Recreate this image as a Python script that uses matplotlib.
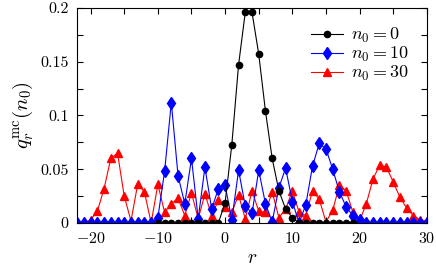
import numpy as np
import matplotlib
matplotlib.use("Agg")
import matplotlib.pyplot as plt
from matplotlib.ticker import MultipleLocator

plt.rcParams.update({
    "font.family": "serif",
    "font.serif": ["cmr10"],
    "mathtext.fontset": "cm",
    "axes.formatter.use_mathtext": True,
    "font.size": 11,
})

r_all = np.arange(-22, 31)
r_black = np.arange(-10, 20)

q_n0_0 = [0, 0, 0, 0, 0, 0, 0, 0, 0, 0,
          0.019, 0.073, 0.147, 0.196, 0.196, 0.157, 0.104, 0.060, 0.030, 0.013,
          0.005, 0, 0, 0, 0, 0, 0, 0, 0, 0]

q_n0_10 = [0, 0, 0, 0, 0, 0, 0, 0, 0, 0, 0, 0,
           0.005, 0.048, 0.112, 0.044, 0.018, 0.060, 0.004, 0.052, 0.013, 0.032,
           0.035, 0.003, 0.049, 0.016, 0.009, 0.049, 0.018, 0.001, 0.033, 0.051,
           0.020, 0.0, 0.017, 0.053, 0.074, 0.069, 0.050, 0.029, 0.015, 0.007,
           0.003, 0, 0, 0, 0, 0, 0, 0, 0, 0, 0]

q_n0_30 = [0, 0, 0.003, 0.011, 0.032, 0.060, 0.065, 0.025, 0.002, 0.036,
           0.029, 0.0, 0.036, 0.010, 0.018, 0.023, 0.007, 0.028, 0.004, 0.027,
           0.007, 0.021, 0.015, 0.010, 0.026, 0.004, 0.030, 0.011, 0.010, 0.029,
           0.005, 0.013, 0.030, 0.010, 0.007, 0.030, 0.022, 0.001, 0.012, 0.035,
           0.030, 0.010, 0.002, 0.018, 0.041, 0.054, 0.052, 0.038, 0.024, 0.014,
           0.007, 0.003, 0.002]

fig = plt.figure(figsize=(4.36, 2.72), dpi=100)
ax = fig.add_axes([0.177, 0.18, 0.802, 0.791])

ax.plot(r_black, q_n0_0, color="black", marker="o", ms=4.5, lw=0.8,
        label=r"$n_0 = 0$", zorder=3)
ax.plot(r_all, q_n0_10, color="blue", marker="d", ms=6.5, lw=0.8,
        label=r"$n_0 = 10$", zorder=2)
ax.plot(r_all, q_n0_30, color="red", marker="^", ms=6, lw=0.8,
        label=r"$n_0 = 30$", zorder=1)

ax.set_xlim(-22, 30)
ax.set_ylim(0, 0.2)
ax.xaxis.set_major_locator(MultipleLocator(10))
ax.xaxis.set_minor_locator(MultipleLocator(5))
ax.yaxis.set_major_locator(MultipleLocator(0.05))
ax.yaxis.set_minor_locator(MultipleLocator(0.025))
ax.yaxis.set_major_formatter(plt.FuncFormatter(lambda v, p: "%g" % v))
ax.tick_params(which="both", direction="in", top=True, right=True, length=4, width=0.8)
ax.tick_params(axis="both", labelsize=11.5, pad=6)

ax.set_xlabel(r"$r$", fontsize=14, labelpad=2)
ax.set_ylabel(r"$q_r^{\mathrm{mc}}(n_0)$", fontsize=15, labelpad=4)

ax.legend(loc="upper right", frameon=False, fontsize=13, handlelength=1.8,
          handletextpad=0.4, labelspacing=0.0, borderaxespad=0.6)

fig.savefig("out.png", dpi=100)
